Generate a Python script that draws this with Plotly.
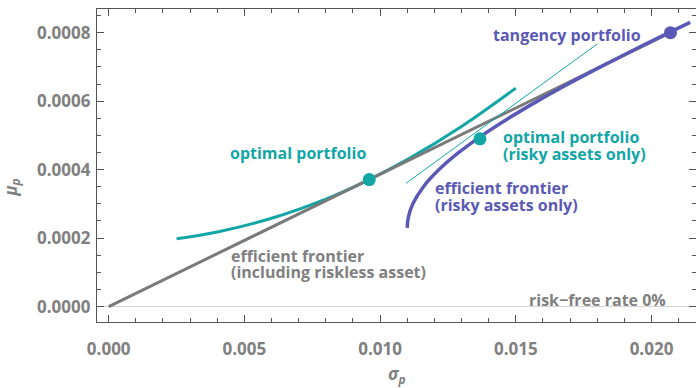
import plotly.graph_objects as go

# Capital market line (efficient frontier including the riskless asset)
cml_sigma = [0.0, 0.0207]
cml_mu = [0.0, 0.0008]

# Efficient frontier of the risky assets only
ef_sigma = [0.011000, 0.011038, 0.011207, 0.011598, 0.012171, 0.012901, 0.013764,
            0.014736, 0.015797, 0.016930, 0.018122, 0.019362, 0.020641, 0.021425]
ef_mu = [0.00023, 0.00026, 0.00030, 0.00035, 0.00040, 0.00045, 0.00050,
         0.00055, 0.00060, 0.00065, 0.00070, 0.00075, 0.00080, 0.00083]

# Indifference curve touching the capital market line
ic_sigma = [0.0025, 0.004, 0.006, 0.008, 0.0096, 0.011, 0.013, 0.015]
ic_mu = [0.000198, 0.000218, 0.000258, 0.000314, 0.000371, 0.000429, 0.000526, 0.000638]

# Tangent to the risky frontier at the risky-only optimum
tan_sigma = [0.010954, 0.018003]
tan_mu = [0.000360, 0.000767]

# Marked portfolios
optimal_pt = (0.0096, 0.000371)
risky_optimal_pt = (0.01368, 0.00049)
tangency_pt = (0.0207, 0.0008)

x_ticks = [0.000, 0.005, 0.010, 0.015, 0.020]
x_tick_labels = ["0.000", "0.005", "0.010", "0.015", "0.020"]
y_ticks = [0.0000, 0.0002, 0.0004, 0.0006, 0.0008]
y_tick_labels = ["0.0000", "0.0002", "0.0004", "0.0006", "0.0008"]

TEAL = "#12a6a6"
PURPLE = "#5a5ab6"
GRAY = "#808080"
FRAME = "#555555"
FONT = "Open Sans"

fig = go.Figure()

fig.add_trace(go.Scatter(x=ic_sigma, y=ic_mu, mode="lines", line_shape="spline",
                         line=dict(color=TEAL, width=3), hoverinfo="skip"))
fig.add_trace(go.Scatter(x=cml_sigma, y=cml_mu, mode="lines",
                         line=dict(color="#7a7a7a", width=3), hoverinfo="skip"))
fig.add_trace(go.Scatter(x=tan_sigma, y=tan_mu, mode="lines",
                         line=dict(color=TEAL, width=1), hoverinfo="skip"))
fig.add_trace(go.Scatter(x=ef_sigma, y=ef_mu, mode="lines", line_shape="spline",
                         line=dict(color=PURPLE, width=3.5), hoverinfo="skip"))
fig.add_trace(go.Scatter(x=[optimal_pt[0], risky_optimal_pt[0]],
                         y=[optimal_pt[1], risky_optimal_pt[1]], mode="markers",
                         marker=dict(color=TEAL, size=13), hoverinfo="skip"))
fig.add_trace(go.Scatter(x=[tangency_pt[0]], y=[tangency_pt[1]], mode="markers",
                         marker=dict(color=PURPLE, size=13), hoverinfo="skip"))


def label(text, x, y, color, anchor="left"):
    fig.add_annotation(x=x, y=y, xref="x", yref="y", text=f"<b>{text}</b>",
                       showarrow=False, xanchor=anchor, yanchor="middle", borderpad=0,
                       font=dict(family=FONT, size=16, color=color))


label("tangency portfolio", 0.016905, 0.000793, PURPLE, "center")
label("optimal portfolio", 0.006975, 0.000448, TEAL, "center")
label("optimal portfolio", 0.01450, 0.000495, TEAL)
label("(risky assets only)", 0.01450, 0.000445, TEAL)
label("efficient frontier", 0.01200, 0.000346, PURPLE)
label("(risky assets only)", 0.01200, 0.000296, PURPLE)
label("efficient frontier", 0.00448, 0.000147, GRAY)
label("(including riskless asset)", 0.00448, 0.000100, GRAY)
label("risk\u2212free rate 0%", 0.020571, 0.0000184, GRAY, "right")

# Axis titles
fig.add_annotation(x=0.5, y=-0.168, xref="paper", yref="paper",
                   text="<b><i>σ<sub>p</sub></i></b>", showarrow=False,
                   xanchor="center", yanchor="middle",
                   font=dict(family=FONT, size=17, color=GRAY))
fig.add_annotation(x=-0.143, y=0.43, xref="paper", yref="paper",
                   text="<b><i>μ<sub>p</sub></i></b>", showarrow=False, textangle=-90,
                   xanchor="center", yanchor="middle",
                   font=dict(family=FONT, size=17, color=GRAY))

axis_common = dict(showgrid=False, showline=True, linecolor=FRAME, linewidth=1.3,
                   mirror="ticks", ticks="inside", tickcolor=FRAME, ticklen=7,
                   tickwidth=1.2,
                   tickfont=dict(family=FONT, size=17, color=GRAY, weight="bold"))

fig.update_xaxes(range=[-0.000431, 0.021640], tickvals=x_ticks, ticktext=x_tick_labels,
                 zeroline=False, ticklabelstandoff=11,
                 minor=dict(dtick=0.001, tick0=0, ticks="inside", ticklen=4,
                            tickcolor=FRAME, tickwidth=1),
                 **axis_common)
fig.update_yaxes(range=[-0.000045, 0.000869], tickvals=y_ticks, ticktext=y_tick_labels,
                 zeroline=True, zerolinecolor="#d4d4d4", zerolinewidth=1.2,
                 ticklabelstandoff=2,
                 minor=dict(dtick=0.00005, tick0=0, ticks="inside", ticklen=4,
                            tickcolor=FRAME, tickwidth=1),
                 **axis_common)

fig.update_layout(width=696, height=388, margin=dict(l=97, r=0, t=9, b=66),
                  plot_bgcolor="white", paper_bgcolor="white", showlegend=False)

fig.write_html("out.html")
